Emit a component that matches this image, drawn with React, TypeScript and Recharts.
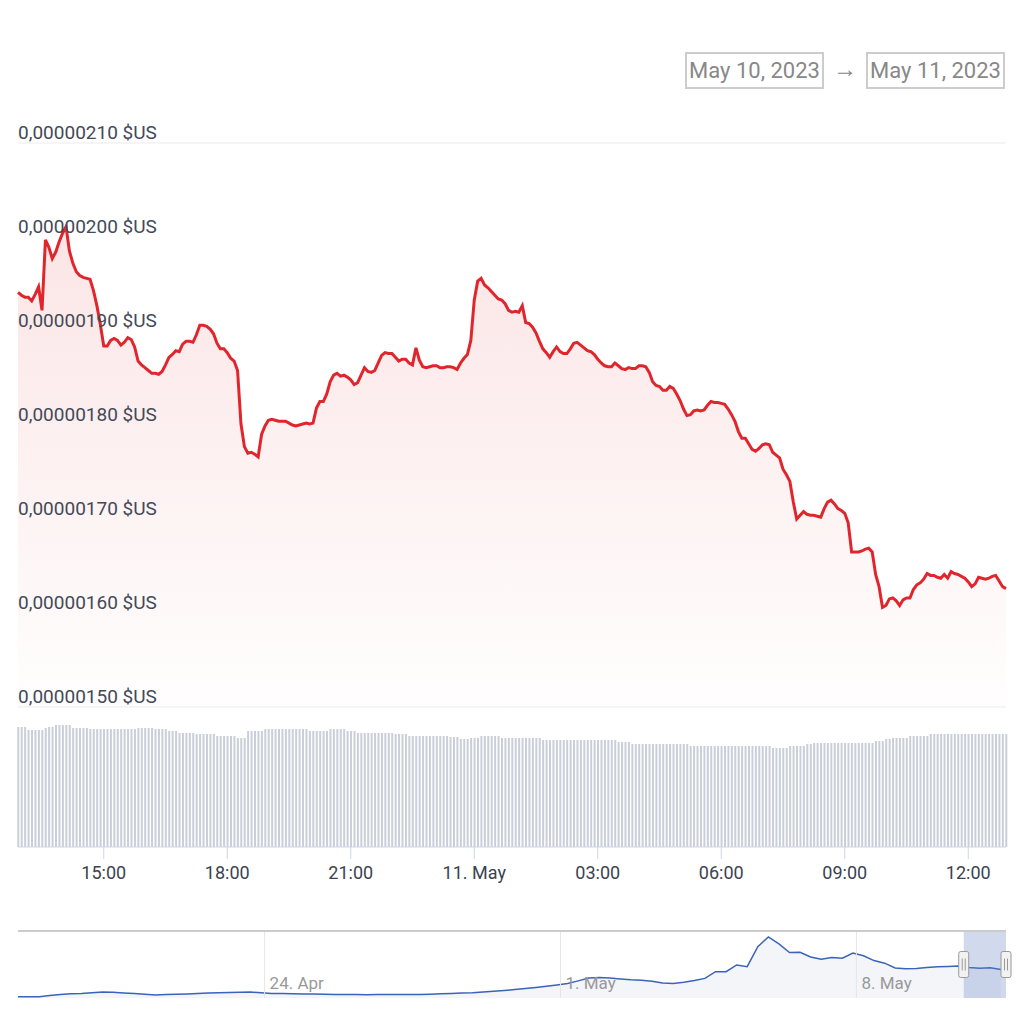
import React from 'react'
import {
  AreaChart,
  Area,
  BarChart,
  Bar,
  XAxis,
  YAxis,
  CartesianGrid,
  ReferenceArea,
  ReferenceLine,
} from 'recharts'

// main series: 5 minute steps from May 10, 12:55 UTC
const START = Date.UTC(2023, 4, 10, 12, 55)
const STEP = 5 * 60 * 1000

// price in units of 0.00000001 $US
const priceE8 = [
  194.1, 193.8, 193.6, 193.6, 193.2, 193.9, 194.7, 192.2, 199.7, 198.9,
  197.7, 198.4, 199.5, 200.4, 201.1, 198.5, 197.2, 196.3, 195.9, 195.7,
  195.6, 195.5, 194.3, 192.7, 190.7, 188.4, 188.4, 189.0, 189.2, 189.0,
  188.5, 188.8, 189.3, 189.1, 188.3, 186.8, 186.4, 186.1, 185.8, 185.5,
  185.5, 185.4, 185.7, 186.4, 187.2, 187.5, 187.9, 187.8, 188.6, 188.9,
  188.9, 188.8, 189.6, 190.6, 190.6, 190.5, 190.2, 189.7, 188.7, 188.1,
  188.1, 187.7, 187.1, 186.8, 185.8, 180.1, 177.7, 177.0, 177.1, 176.9,
  176.6, 179.0, 179.9, 180.5, 180.6, 180.5, 180.4, 180.4, 180.4, 180.2,
  180.0, 179.9, 180.0, 180.1, 180.2, 180.1, 180.2, 181.8, 182.5, 182.5,
  183.3, 184.6, 185.3, 185.5, 185.2, 185.3, 185.1, 184.8, 184.3, 184.5,
  185.3, 186.1, 185.7, 185.6, 185.8, 186.6, 187.4, 187.7, 187.6, 187.6,
  187.2, 186.8, 187.0, 187.0, 186.6, 186.4, 188.2, 186.9, 186.2, 186.1,
  186.2, 186.3, 186.3, 186.1, 186.1, 186.2, 186.2, 186.1, 185.9, 186.6,
  187.1, 187.5, 189.0, 193.3, 195.3, 195.6, 194.9, 194.6, 194.2, 193.8,
  193.4, 193.3, 192.9, 192.2, 192.0, 192.1, 192.0, 192.7, 190.9, 190.8,
  190.4, 189.8, 188.9, 188.1, 187.7, 187.2, 187.8, 188.3, 187.8, 187.6,
  187.6, 188.1, 188.7, 188.8, 188.5, 188.2, 187.9, 187.8, 187.5, 187.0,
  186.6, 186.3, 186.2, 186.2, 186.6, 186.3, 186.0, 185.9, 186.1, 186.0,
  186.0, 186.3, 186.3, 186.2, 185.6, 184.6, 184.2, 184.1, 183.7, 183.7,
  184.1, 183.9, 183.3, 182.6, 181.7, 181.0, 181.1, 181.5, 181.6, 181.5,
  181.6, 182.1, 182.5, 182.4, 182.4, 182.3, 182.2, 181.7, 181.1, 180.4,
  179.3, 178.6, 178.6, 178.0, 177.4, 177.2, 177.5, 177.9, 178.0, 177.9,
  177.1, 176.8, 176.5, 175.3, 174.7, 174.0, 171.8, 170.0, 170.4, 170.8,
  170.5, 170.4, 170.4, 170.3, 170.2, 171.1, 171.8, 172.0, 171.6, 171.1,
  170.9, 170.6, 169.6, 166.5, 166.5, 166.5, 166.6, 166.8, 166.9, 166.5,
  164.1, 162.8, 160.6, 160.8, 161.5, 161.6, 161.3, 160.8, 161.4, 161.6,
  161.6, 162.5, 163.0, 163.2, 163.6, 164.2, 164.0, 164.0, 163.8, 163.7,
  164.1, 163.7, 164.4, 164.2, 164.1, 163.9, 163.7, 163.3, 162.8, 163.1,
  163.8, 163.7, 163.6, 163.7, 163.9, 164.0, 163.4, 162.8, 162.6,
]

// volume bars (relative units)
const volume = [
  120, 120, 120, 117, 117, 117, 117, 117, 119, 120, 120,
  122, 122, 122, 122, 122, 119, 119, 119, 119, 119,
  118, 118, 118, 118, 118, 118, 118, 118, 118, 118, 118, 118, 118, 118,
  119, 119, 119, 119, 119, 118, 118, 118, 118, 116, 116, 116,
  114, 114, 114, 114, 114, 113, 113, 113, 113, 113, 113,
  111, 111, 111, 111, 111, 111, 109, 109, 109, 116, 116, 116, 116, 116,
  118, 118, 118, 118, 118, 118, 118, 118, 118, 118, 118, 118, 118,
  116, 116, 116, 116, 116, 116, 118, 118, 118, 118, 118, 116, 116, 116,
  114, 114, 114, 114, 114, 114, 114, 114, 114, 114, 114, 113, 113, 113, 113,
  111, 111, 111, 111, 111, 111, 111, 111, 111, 111, 111, 111,
  110, 110, 110, 108, 108, 108, 109, 109, 109, 111, 111, 111, 111, 111, 111,
  109, 109, 109, 109, 109, 109, 109, 109, 109, 109, 109, 109,
  107, 107, 107, 107, 107, 107, 107, 107, 107, 107, 107,
  107, 107, 107, 107, 107, 107, 107, 107, 107, 107, 107,
  105, 105, 105, 105,
  103, 103, 103, 103, 103, 103, 103, 103, 103, 103, 103, 103, 103, 103, 103, 103, 103,
  101, 101, 101, 101, 101, 101, 101, 101, 101, 101, 101, 101,
  101, 101, 101, 101, 101, 101, 101, 101, 101, 101, 101, 101,
  99, 99, 99, 99, 99, 101, 101, 101, 101, 101, 103, 103,
  104, 104, 104, 104, 104, 104, 104, 104, 104, 104, 104, 104, 104, 104, 104, 104, 104, 104,
  106, 106, 106, 108, 108, 109, 109, 109, 109, 109, 111, 111, 111, 111, 111, 111,
  113, 113, 113, 113, 113, 113, 113, 113, 113, 113, 113, 113,
  113, 113, 113, 113, 113, 113, 113, 113, 113, 113, 113,
]

const priceTicks = [150, 160, 170, 180, 190, 200, 210]
const timeTicks = [
  Date.UTC(2023, 4, 10, 15),
  Date.UTC(2023, 4, 10, 18),
  Date.UTC(2023, 4, 10, 21),
  Date.UTC(2023, 4, 11, 0),
  Date.UTC(2023, 4, 11, 3),
  Date.UTC(2023, 4, 11, 6),
  Date.UTC(2023, 4, 11, 9),
  Date.UTC(2023, 4, 11, 12),
]

// navigator: 6 hour steps from Apr 18, 04:00 UTC
const NAV_START = Date.UTC(2023, 3, 18, 4)
const NAV_STEP = 6 * 3600 * 1000
const navPriceE8 = [
  7.1, 7, 7, 13.6, 18.5, 22.9, 25.1, 28.9, 33.2, 31.6,
  27.8, 24.5, 20.7, 16.9, 18.5, 20.2, 22.3, 24.5, 27.3, 28.9,
  30, 31.6, 32.7, 28.3, 25, 24, 22.9, 21.8, 21.3, 20.2,
  19.6, 19.1, 18.5, 17.9, 18.5, 18.5, 19.1, 19.1, 19.6, 20.7,
  22.9, 25.1, 27.3, 28.9, 32.7, 36.5, 40.9, 45.8, 51.2, 57.2,
  63.8, 70.9, 78.5, 93.2, 109, 111.7, 109, 103.6, 99.2, 96.5,
  91.6, 82.3, 79, 85.6, 95.4, 106.8, 143.3, 143.3, 179.9, 170.6,
  279.6, 332.5, 294.3, 248, 249, 223.5, 211, 220.7, 216.9, 245,
  230, 203.8, 189.7, 163.5, 159.7, 161.3, 166.2, 170.6, 172.2, 173.9,
  166.8, 162.4, 164.6, 155.3,
]
const navTicks = [Date.UTC(2023, 3, 24), Date.UTC(2023, 4, 1), Date.UTC(2023, 4, 8)]
const NAV_MAX = 365

const MONTHS = ['Jan', 'Feb', 'Mar', 'Apr', 'May', 'Jun', 'Jul', 'Aug', 'Sep', 'Oct', 'Nov', 'Dec']

const END = START + (priceE8.length - 1) * STEP
const data = priceE8.map((p, i) => ({ t: START + i * STEP, p, v: volume[i] }))
const navData = navPriceE8.map((p, i) => ({ t: NAV_START + i * NAV_STEP, p }))

const PLOT_LEFT = 18
const FONT = 'Roboto, "Noto Sans", sans-serif'

const pad = (n: number) => String(n).padStart(2, '0')

function fmtTime(t: number) {
  const d = new Date(t)
  if (d.getUTCHours() === 0 && d.getUTCMinutes() === 0) {
    return `${d.getUTCDate()}. ${MONTHS[d.getUTCMonth()]}`
  }
  return `${pad(d.getUTCHours())}:${pad(d.getUTCMinutes())}`
}

function fmtPrice(v: number) {
  return (v / 1e8).toFixed(8).replace('.', ',') + ' $US'
}

function fmtDay(t: number) {
  const d = new Date(t)
  return `${d.getUTCDate()}. ${MONTHS[d.getUTCMonth()]}`
}

// price label drawn just above its grid line, inside the plot
function PriceLabel({ viewBox, value }: any) {
  if (!viewBox) return null
  return (
    <text x={viewBox.x} y={viewBox.y - 4} fill="#434a57" fontSize={19} textAnchor="start" fontFamily={FONT}>
      {fmtPrice(value)}
    </text>
  )
}

// navigator date label drawn inside the navigator, right of its grid line
function NavLabel({ viewBox, value }: any) {
  if (!viewBox) return null
  return (
    <text x={viewBox.x + 5} y={viewBox.y + viewBox.height - 9} fill="#999999" fontSize={17} textAnchor="start" fontFamily={FONT}>
      {fmtDay(value)}
    </text>
  )
}

function Handle({ viewBox }: any) {
  if (!viewBox) return null
  const cx = viewBox.x
  const cy = viewBox.y + viewBox.height / 2
  return (
    <g>
      <rect x={cx - 5} y={cy - 13} width={10} height={26} rx={2} fill="#f2f2f2" stroke="#999" strokeWidth={1} />
      <line x1={cx - 1.5} x2={cx - 1.5} y1={cy - 6} y2={cy + 6} stroke="#999" />
      <line x1={cx + 1.5} x2={cx + 1.5} y1={cy - 6} y2={cy + 6} stroke="#999" />
    </g>
  )
}

const dateBox: React.CSSProperties = {
  position: 'absolute',
  top: 52,
  height: 33,
  border: '2px solid #cccccc',
  color: '#888888',
  fontSize: 22,
  lineHeight: '33px',
  textAlign: 'center',
  fontFamily: FONT,
}

export default function App() {
  return (
    <div style={{ position: 'absolute', left: 0, top: 0, width: 1024, height: 1024, background: '#fff', fontFamily: FONT }}>
      <div style={{ ...dateBox, left: 685, width: 135 }}>May 10, 2023</div>
      <div style={{ position: 'absolute', left: 833, top: 51, lineHeight: '37px', fontSize: 24, color: '#888' }}>→</div>
      <div style={{ ...dateBox, left: 866, width: 135 }}>May 11, 2023</div>

      <div style={{ position: 'absolute', left: 0, top: 0 }}>
        <AreaChart width={1024} height={710} data={data} margin={{ top: 143, right: 18, bottom: 3, left: PLOT_LEFT }}>
          <defs>
            <linearGradient id="priceFill" x1="0" y1="0" x2="0" y2="1">
              <stop offset="0%" stopColor="#e0262c" stopOpacity={0.2} />
              <stop offset="100%" stopColor="#e0262c" stopOpacity={0.01} />
            </linearGradient>
          </defs>
          <CartesianGrid vertical={false} stroke="#ebebeb" />
          <XAxis dataKey="t" type="number" domain={[START, END]} hide />
          <YAxis domain={[150, 210]} ticks={priceTicks} width={0} axisLine={false} tickLine={false} tick={false} />
          <Area
            dataKey="p"
            type="linear"
            stroke="#e0262c"
            strokeWidth={3}
            fill="url(#priceFill)"
            dot={false}
            activeDot={false}
            isAnimationActive={false}
          />
          {priceTicks.map((v) => (
            <ReferenceLine key={v} y={v} stroke="none" label={<PriceLabel value={v} />} />
          ))}
        </AreaChart>
      </div>

      <div style={{ position: 'absolute', left: 0, top: 700 }}>
        <BarChart width={1024} height={200} data={data} margin={{ top: 17, right: 18, bottom: 13, left: PLOT_LEFT }}>
          <XAxis
            dataKey="t"
            type="number"
            domain={[START, END]}
            ticks={timeTicks}
            tickFormatter={fmtTime}
            interval={0}
            height={40}
            stroke="#ccd6eb"
            tickSize={12}
            tickMargin={7}
            tick={{ fill: '#3c4250', fontSize: 18, fontFamily: FONT }}
          />
          <YAxis domain={[0, 130]} hide />
          <Bar dataKey="v" fill="#c9ced8" barSize={2} isAnimationActive={false} />
        </BarChart>
      </div>

      <div style={{ position: 'absolute', left: 0, top: 920 }}>
        <AreaChart width={1024} height={90} data={navData} margin={{ top: 11, right: 18, bottom: 12, left: PLOT_LEFT }}>
          <XAxis dataKey="t" type="number" domain={[NAV_START, END]} hide />
          <YAxis domain={[0, NAV_MAX]} hide />
          {navTicks.map((t) => (
            <ReferenceLine key={t} x={t} stroke="#e6e6e6" label={<NavLabel value={t} />} />
          ))}
          <Area
            dataKey="p"
            type="linear"
            stroke="#3b63b9"
            strokeWidth={1.5}
            fill="#eef1f7"
            fillOpacity={0.7}
            dot={false}
            activeDot={false}
            isAnimationActive={false}
          />
          <ReferenceArea x1={START} x2={END} y1={0} y2={NAV_MAX} fill="rgb(102,133,194)" fillOpacity={0.3} stroke="none" />
          <ReferenceLine y={NAV_MAX} stroke="#cccccc" strokeWidth={2} />
          <ReferenceLine x={START} stroke="none" label={<Handle />} />
          <ReferenceLine x={END} stroke="none" label={<Handle />} />
        </AreaChart>
      </div>
    </div>
  )
}
